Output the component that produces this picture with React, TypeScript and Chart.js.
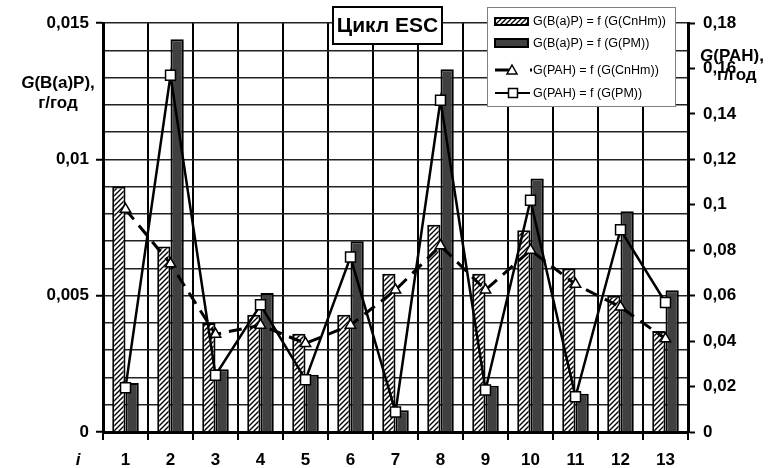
import React, { useEffect, useRef } from 'react';
import { Chart, registerables } from 'chart.js';

Chart.register(...registerables);

const categories = ['1', '2', '3', '4', '5', '6', '7', '8', '9', '10', '11', '12', '13'];
const bapCnHm = [0.009, 0.0068, 0.004, 0.0043, 0.0036, 0.0043, 0.0058, 0.0076, 0.0058, 0.0074, 0.006, 0.005, 0.0037];
const bapPM = [0.0018, 0.0144, 0.0023, 0.0051, 0.0021, 0.007, 0.0008, 0.0133, 0.0017, 0.0093, 0.0014, 0.0081, 0.0052];
const pahCnHm = [0.098, 0.074, 0.043, 0.047, 0.039, 0.047, 0.0625, 0.082, 0.0625, 0.08, 0.065, 0.055, 0.041];
const pahPM = [0.0195, 0.157, 0.025, 0.056, 0.023, 0.077, 0.0088, 0.146, 0.0185, 0.102, 0.0155, 0.089, 0.057];
const legendLabels = [
  'G(B(a)P) = f (G(CnHm))',
  'G(B(a)P) = f (G(PM))',
  'G(PAH) = f (G(CnHm))',
  'G(PAH) = f (G(PM))',
];
const titleText = 'Цикл ESC';
const leftMax = 0.015;
const leftStep = 0.001;
const leftMajor = 0.005;
const rightMax = 0.18;
const rightStep = 0.02;

const FONT = "'Liberation Sans', Arial, sans-serif";

function fmt(v: number): string {
  return String(parseFloat(v.toFixed(4))).replace('.', ',');
}

function isMajor(v: number): boolean {
  const r = v / leftMajor;
  return Math.abs(r - Math.round(r)) < 1e-6;
}

function makeHatch(): CanvasPattern | string {
  const c = document.createElement('canvas');
  c.width = 5;
  c.height = 5;
  const g = c.getContext('2d');
  if (!g) return '#fff';
  g.fillStyle = '#fff';
  g.fillRect(0, 0, 5, 5);
  g.strokeStyle = '#000';
  g.lineWidth = 1.4;
  g.beginPath();
  g.moveTo(-1, 6);
  g.lineTo(6, -1);
  g.moveTo(-1, 1);
  g.lineTo(1, -1);
  g.moveTo(4, 6);
  g.lineTo(6, 4);
  g.stroke();
  return g.createPattern(c, 'repeat') || '#fff';
}

export default function App() {
  const ref = useRef<HTMLCanvasElement | null>(null);

  useEffect(() => {
    const canvas = ref.current;
    if (!canvas) return;
    const hatch = makeHatch();

    const overlay = {
      id: 'overlay',
      afterDraw(chart: any) {
        const ctx: CanvasRenderingContext2D = chart.ctx;
        ctx.save();
        // Title box
        ctx.fillStyle = '#fff';
        ctx.fillRect(333, 7, 109, 37);
        ctx.strokeStyle = '#000';
        ctx.lineWidth = 2;
        ctx.setLineDash([]);
        ctx.strokeRect(333, 7, 109, 37);
        ctx.fillStyle = '#000';
        ctx.font = `bold 21px ${FONT}`;
        ctx.textAlign = 'center';
        ctx.textBaseline = 'middle';
        ctx.fillText(titleText, 387.5, 26);

        // Legend box
        ctx.fillStyle = '#fff';
        ctx.fillRect(487, 7, 188, 99);
        ctx.strokeStyle = '#808080';
        ctx.lineWidth = 1;
        ctx.strokeRect(487.5, 7.5, 188, 99);
        const rows = [21, 43, 70, 93];
        // row 1 hatched
        ctx.fillStyle = hatch as any;
        ctx.fillRect(495, 18, 33, 7);
        ctx.strokeStyle = '#000';
        ctx.lineWidth = 2;
        ctx.strokeRect(495, 18, 33, 7);
        // row 2 dark
        ctx.fillStyle = '#404040';
        ctx.fillRect(495, 39, 33, 8);
        ctx.strokeRect(495, 39, 33, 8);
        // row 3 dashed with triangle
        ctx.lineWidth = 3;
        ctx.setLineDash([18, 17, 2, 100]);
        ctx.beginPath();
        ctx.moveTo(495, rows[2]);
        ctx.lineTo(535, rows[2]);
        ctx.stroke();
        ctx.setLineDash([]);
        ctx.fillStyle = '#fff';
        ctx.lineWidth = 1.5;
        ctx.beginPath();
        ctx.moveTo(512, rows[2] - 5);
        ctx.lineTo(517, rows[2] + 4);
        ctx.lineTo(507, rows[2] + 4);
        ctx.closePath();
        ctx.fill();
        ctx.stroke();
        // row 4 solid with square
        ctx.lineWidth = 2;
        ctx.beginPath();
        ctx.moveTo(495, rows[3]);
        ctx.lineTo(530, rows[3]);
        ctx.stroke();
        ctx.fillStyle = '#fff';
        ctx.lineWidth = 1.5;
        ctx.fillRect(508.5, rows[3] - 4.5, 9, 9);
        ctx.strokeRect(508.5, rows[3] - 4.5, 9, 9);
        // legend text
        ctx.fillStyle = '#000';
        ctx.font = `12.5px ${FONT}`;
        ctx.textAlign = 'left';
        ctx.textBaseline = 'middle';
        legendLabels.forEach((t, i) => ctx.fillText(t, 533, rows[i] + 1));

        // Axis titles
        const drawMixed = (x: number, y: number, italic: string, rest: string, align: 'left' | 'center') => {
          ctx.font = `italic bold 17px ${FONT}`;
          const w1 = ctx.measureText(italic).width;
          ctx.font = `bold 17px ${FONT}`;
          const w2 = ctx.measureText(rest).width;
          const start = align === 'center' ? x - (w1 + w2) / 2 : x;
          ctx.textAlign = 'left';
          ctx.font = `italic bold 17px ${FONT}`;
          ctx.fillText(italic, start, y);
          ctx.font = `bold 17px ${FONT}`;
          ctx.fillText(rest, start + w1, y);
        };
        ctx.fillStyle = '#000';
        ctx.textBaseline = 'middle';
        drawMixed(58, 83, 'G', '(B(a)P),', 'center');
        ctx.font = `bold 17px ${FONT}`;
        ctx.textAlign = 'center';
        ctx.fillText('г/год', 58, 103);

        drawMixed(700, 56, 'G', '(PAH),', 'left');
        ctx.font = `bold 17px ${FONT}`;
        ctx.textAlign = 'left';
        ctx.fillText('г/год', 717, 75);

        // x axis label "i"
        ctx.font = `italic bold 17px ${FONT}`;
        ctx.textAlign = 'center';
        ctx.fillText('i', 78, 460);
        ctx.restore();
      },
    };

    const chart = new Chart(canvas, {
      type: 'bar',
      data: {
        labels: categories,
        datasets: [
          {
            type: 'bar',
            label: legendLabels[0],
            data: bapCnHm,
            yAxisID: 'y',
            backgroundColor: hatch as any,
            borderColor: '#000',
            borderWidth: 2,
            categoryPercentage: 0.59,
            barPercentage: 1,
            order: 3,
          },
          {
            type: 'bar',
            label: legendLabels[1],
            data: bapPM,
            yAxisID: 'y',
            backgroundColor: '#404040',
            borderColor: '#000',
            borderWidth: 2,
            categoryPercentage: 0.59,
            barPercentage: 1,
            order: 3,
          },
          {
            type: 'line',
            label: legendLabels[2],
            data: pahCnHm,
            yAxisID: 'y1',
            borderColor: '#000',
            borderWidth: 3,
            borderDash: [13, 8],
            backgroundColor: '#fff',
            pointStyle: 'triangle',
            pointRadius: 6,
            pointBorderWidth: 1.5,
            pointBorderColor: '#000',
            pointBackgroundColor: '#fff',
            tension: 0,
            fill: false,
            order: 2,
          },
          {
            type: 'line',
            label: legendLabels[3],
            data: pahPM,
            yAxisID: 'y1',
            borderColor: '#000',
            borderWidth: 2.5,
            backgroundColor: '#fff',
            pointStyle: 'rect',
            pointRadius: 7,
            pointBorderWidth: 1.5,
            pointBorderColor: '#000',
            pointBackgroundColor: '#fff',
            tension: 0,
            fill: false,
            order: 1,
          },
        ] as any,
      },
      options: {
        responsive: false,
        maintainAspectRatio: false,
        animation: false,
        devicePixelRatio: 1,
        layout: { padding: { top: 23, left: 0, right: 0, bottom: 0 } },
        plugins: {
          legend: { display: false },
          tooltip: { enabled: false },
          title: { display: false },
        },
        scales: {
          x: {
            type: 'category',
            offset: true,
            grid: {
              offset: true,
              color: '#000',
              lineWidth: 2,
              tickLength: 8,
              tickColor: '#000',
              tickWidth: 2,
              drawOnChartArea: true,
            },
            border: { color: '#000', width: 3 },
            ticks: {
              color: '#000',
              font: { family: FONT, size: 17, weight: 'bold' },
              padding: 10,
              autoSkip: false,
              maxRotation: 0,
            },
            afterFit: (s: any) => {
              s.height = 36;
            },
          },
          y: {
            type: 'linear',
            position: 'left',
            min: 0,
            max: leftMax,
            grid: {
              color: '#222',
              lineWidth: 1.5,
              tickLength: 7,
              tickWidth: 2,
              tickColor: (c: any) => (c.tick && isMajor(c.tick.value) ? '#000' : 'rgba(0,0,0,0)'),
            },
            border: { color: '#000', width: 3 },
            ticks: {
              stepSize: leftStep,
              maxTicksLimit: 100,
              autoSkip: false,
              color: '#000',
              padding: 7,
              font: { family: FONT, size: 17, weight: 'bold' },
              callback: (v: any) => (isMajor(Number(v)) ? fmt(Number(v)) : ''),
            },
            afterFit: (s: any) => {
              s.width = 103;
            },
          },
          y1: {
            type: 'linear',
            position: 'right',
            min: 0,
            max: rightMax,
            grid: {
              drawOnChartArea: false,
              tickLength: 7,
              tickWidth: 2,
              tickColor: '#000',
            },
            border: { color: '#000', width: 3 },
            ticks: {
              stepSize: rightStep,
              maxTicksLimit: 100,
              autoSkip: false,
              color: '#000',
              padding: 8,
              font: { family: FONT, size: 17, weight: 'bold' },
              callback: (v: any) => fmt(Number(v)),
            },
            afterFit: (s: any) => {
              s.width = 89;
            },
          },
        },
      } as any,
      plugins: [overlay],
    });

    return () => {
      chart.destroy();
    };
  }, []);

  return (
    <div style={{ position: 'absolute', left: 0, top: 0, width: 777, height: 468, background: '#fff' }}>
      <canvas ref={ref} width={777} height={468} style={{ display: 'block' }} />
    </div>
  );
}
